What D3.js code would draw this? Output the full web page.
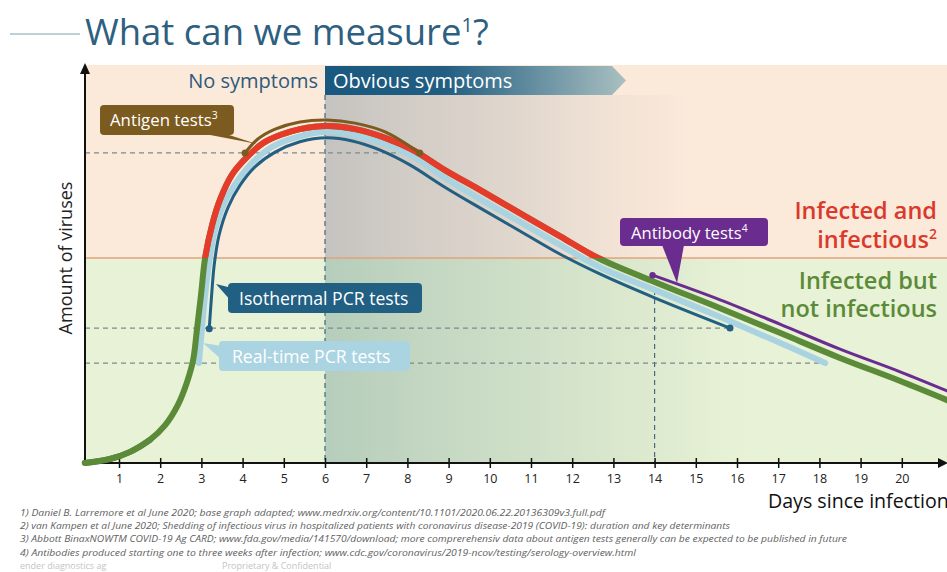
<!DOCTYPE html>
<html><head><meta charset="utf-8">
<script src="https://cdn.jsdelivr.net/npm/d3@7"></script>
<style>
body{margin:0;background:#fff;}
svg{display:block;font-family:"Open Sans",sans-serif;}
</style>
</head><body>
<svg id="c" width="947" height="572"></svg>
<script>
// ---------- data ----------
const dayTicks = [1,2,3,4,5,6,7,8,9,10,11,12,13,14,15,16,17,18,19,20];
// viral load curve [day, amount]
const viralLoad = [[0.17,0],[0.78,0.10],[1.27,0.28],[1.75,0.58],[2.12,0.95],[2.43,1.46],[2.65,2.03],[2.80,2.59],[2.89,3.34],[2.99,4.22],[3.09,5.15],[3.26,5.98],[3.45,6.61],[3.74,7.24],[4.11,7.69],[4.50,8.04],[4.91,8.24],[5.39,8.39],[6.05,8.47],[6.73,8.39],[7.46,8.17],[8.14,7.86],[8.91,7.36],[9.76,6.86],[10.73,6.28],[11.70,5.70],[12.63,5.15],[14.0,4.55],[15.59,3.89],[17.04,3.27],[18.50,2.64],[19.96,2.06],[21.1,1.58]];
const realTimePCR = [[2.94,2.51],[3.01,3.34],[3.09,4.22],[3.19,5.05],[3.33,5.85],[3.57,6.56],[3.89,7.11],[4.25,7.56],[4.71,7.94],[5.32,8.19],[6.05,8.32],[6.70,8.24],[7.43,8.02],[8.14,7.69],[8.91,7.16],[9.76,6.63],[10.73,6.06],[11.70,5.48],[12.67,4.92],[14.0,4.35],[15.59,3.67],[17.04,3.02],[18.14,2.51]];
const isothermalPCR = [[3.19,3.37],[3.24,4.10],[3.31,4.97],[3.43,5.73],[3.65,6.43],[3.94,6.98],[4.30,7.44],[4.79,7.81],[5.39,8.07],[6.05,8.17],[6.66,8.09],[7.34,7.86],[8.06,7.49],[8.91,6.93],[9.76,6.41],[10.73,5.83],[11.70,5.25],[12.67,4.75],[14.0,4.15],[15.83,3.39]];
const antigen = [[4.06,7.79],[4.37,8.14],[4.79,8.39],[5.39,8.57],[6.05,8.62],[6.73,8.54],[7.46,8.32],[8.30,7.79]];
const antibody = [[13.95,4.72],[15.59,4.10],[17.04,3.49],[18.50,2.86],[19.96,2.29],[21.1,1.81]];
const infectiousThreshold = 5.15;
const detectionLimits = {antigen:[7.79,8.30], isothermal:[3.39,15.83], realtime:[2.51,18.14]};
const symptomOnset = 6, antibodyOnset = 14;
const footnotes = [
 "1) Daniel B. Larremore et al June 2020; base graph adapted; www.medrxiv.org/content/10.1101/2020.06.22.20136309v3.full.pdf",
 "2) van Kampen et al June 2020; Shedding of infectious virus in hospitalized patients with coronavirus disease-2019 (COVID-19): duration and key determinants",
 "3) Abbott BinaxNOWTM COVID-19 Ag CARD; www.fda.gov/media/141570/download; more comprerehensiv data about antigen tests generally can be expected to be published in future",
 "4) Antibodies produced starting one to three weeks after infection; www.cdc.gov/coronavirus/2019-ncov/testing/serology-overview.html"
];
const footnoteEnds = [605,730,847,636];

// ---------- setup ----------
const svg = d3.select("#c");
const x = d3.scaleLinear().domain([0,21]).range([77.8,943]);
const y = d3.scaleLinear().domain([0,10]).range([463,65]);
const X0 = 85, X1 = 947, YB = 463, YT = 65;
const yThr = y(infectiousThreshold);
const defs = svg.append("defs");

function grad(id, stops, x1, x2){
  const g = defs.append("linearGradient").attr("id",id).attr("gradientUnits","userSpaceOnUse")
    .attr("x1",x1).attr("x2",x2).attr("y1",0).attr("y2",0);
  stops.forEach(s=>g.append("stop").attr("offset",s[0]).attr("stop-color",s[1]).attr("stop-opacity",s[2]));
}
grad("gTop",[[0,"#8a9aa3",0.48],[0.3,"#a0aaae",0.3],[0.58,"#b8bcb8",0]], x(symptomOnset), X1);
grad("gBot",[[0,"#6f9a96",0.42],[0.4,"#86a89c",0.2],[0.68,"#90b09c",0]], x(symptomOnset), X1);
grad("gBanner",[[0,"#1a587f",1],[0.4,"#225e82",1],[1,"#a9c0c0",1]], x(symptomOnset), 626);

// backgrounds
svg.append("rect").attr("x",X0).attr("y",YT).attr("width",X1-X0).attr("height",yThr-YT).attr("fill","#fbe9da");
svg.append("rect").attr("x",X0).attr("y",yThr).attr("width",X1-X0).attr("height",YB-yThr).attr("fill","#e8f2d6");
svg.append("rect").attr("x",x(symptomOnset)).attr("y",95).attr("width",X1-x(symptomOnset)).attr("height",yThr-95).attr("fill","url(#gTop)");
svg.append("rect").attr("x",x(symptomOnset)).attr("y",yThr).attr("width",X1-x(symptomOnset)).attr("height",YB-yThr).attr("fill","url(#gBot)");
svg.append("line").attr("x1",X0).attr("x2",X1).attr("y1",yThr).attr("y2",yThr).attr("stroke","#e3a27a").attr("stroke-width",1.5);

// title
svg.append("line").attr("x1",10).attr("x2",80).attr("y1",34).attr("y2",34).attr("stroke","#a9bfcc").attr("stroke-width",1.3);
const t = svg.append("text").attr("x",85).attr("y",45).attr("fill","#2e5f80").attr("font-size",36.5);
t.append("tspan").text("What can we measure");
t.append("tspan").attr("font-size",20).attr("dy",-13).text("1");
t.append("tspan").attr("dy",13).text("?");

// symptom banner
const bx = x(symptomOnset);
svg.append("path").attr("d",`M${bx},66 L612,66 L626,80.5 L612,95 L${bx},95 Z`).attr("fill","url(#gBanner)");
svg.append("text").attr("x",bx-7).attr("y",88).attr("text-anchor","end").attr("fill","#2d5a7b").attr("font-size",20).text("No symptoms");
svg.append("text").attr("x",bx+8).attr("y",88).attr("fill","#fff").attr("font-size",20).attr("font-weight",500).text("Obvious symptoms");

// dashed guides
const dash = (x1,y1,x2,y2,col)=>svg.append("line").attr("x1",x1).attr("y1",y1).attr("x2",x2).attr("y2",y2)
   .attr("stroke",col).attr("stroke-width",1.2).attr("stroke-dasharray","5,4");
Object.values(detectionLimits).forEach(d=>dash(X0,y(d[0]),x(d[1]),y(d[0]),"#7d8a8e"));
dash(x(symptomOnset),95,x(symptomOnset),YB,"#3d6880");
dash(x(antibodyOnset),290,x(antibodyOnset),YB,"#4a6880");

// curves
const line = d3.line().x(d=>x(d[0])).y(d=>y(d[1])).curve(d3.curveCatmullRom.alpha(0.5));
const draw = (data,col,w)=>svg.append("path").attr("d",line(data)).attr("fill","none").attr("stroke",col)
   .attr("stroke-width",w).attr("stroke-linecap","round").attr("stroke-linejoin","round");
draw(realTimePCR,"#a9d3e1",6);
draw(isothermalPCR,"#215f83",3);
draw(viralLoad,"#5b8a38",6);
defs.append("clipPath").attr("id","above").append("rect").attr("x",0).attr("y",0).attr("width",947).attr("height",yThr);
draw(viralLoad,"#e63b2b",6).attr("clip-path","url(#above)").attr("stroke-linecap","butt");
draw(antigen,"#7b5b1f",3);
draw(antibody,"#6a2d8f",3);
const dot=(p,col,r)=>svg.append("circle").attr("cx",x(p[0])).attr("cy",y(p[1])).attr("r",r).attr("fill",col);
dot(antigen[0],"#7b5b1f",3.5); dot(antigen[antigen.length-1],"#7b5b1f",3.5);
dot(isothermalPCR[0],"#215f83",3.5); dot(isothermalPCR[isothermalPCR.length-1],"#215f83",3.5);
dot(antibody[0],"#6a2d8f",3.2);

// labels with pointers
function label(box, ptr, col, txt, sup, fs, tx, ty){
  svg.append("path").attr("d",`M${ptr[0][0]},${ptr[0][1]} L${ptr[1][0]},${ptr[1][1]} L${ptr[2][0]},${ptr[2][1]} Z`).attr("fill",col);
  svg.append("rect").attr("x",box[0]).attr("y",box[1]).attr("width",box[2]-box[0]).attr("height",box[3]-box[1]).attr("rx",4).attr("fill",col);
  const tt = svg.append("text").attr("x",tx).attr("y",ty).attr("fill","#fff").attr("font-size",fs).attr("font-weight",500);
  tt.append("tspan").text(txt);
  if(sup) tt.append("tspan").attr("font-size",fs*0.62).attr("dy",-fs*0.42).text(sup);
}
label([100,105,234,135],[[205,134],[226,134],[257,144]],"#7b5b1f","Antigen tests","3",16.8,110,126);
label([228,283,422,313],[[216,284],[232,288],[232,302]],"#215f83","Isothermal PCR tests",null,17.6,239,305);
label([219,341,410,371],[[203,343],[222,346],[222,360]],"#abd4e2","Real-time PCR tests",null,17.6,232,363);
label([620,218,768,246],[[662,245],[684,245],[677,283]],"#6a2d8f","Antibody tests","4",16.6,631,239);

// right side state labels
const rl = (txt,yy,col,sup)=>{const e=svg.append("text").attr("x",937).attr("y",yy).attr("text-anchor","end")
   .attr("fill",col).attr("font-size",23.5).attr("font-weight",600); e.append("tspan").text(txt);
   if(sup) e.append("tspan").attr("font-size",14).attr("dy",-9).text(sup); return e;};
rl("Infected and",219,"#d93a2b");
rl("infectious",248,"#d93a2b","2");
rl("Infected but",289,"#5b8a38");
rl("not infectious",317,"#5b8a38");

// axes
svg.append("line").attr("x1",X0).attr("x2",940).attr("y1",YB).attr("y2",YB).attr("stroke","#111").attr("stroke-width",2);
svg.append("path").attr("d",`M938,458 L948,463 L938,468 Z`).attr("fill","#111");
svg.append("line").attr("x1",X0).attr("x2",X0).attr("y1",YB).attr("y2",72).attr("stroke","#111").attr("stroke-width",2);
svg.append("path").attr("d",`M80,74 L85,63 L90,74 Z`).attr("fill","#111");
const ax = svg.append("g").attr("transform",`translate(0,${YB})`)
  .call(d3.axisBottom(x).tickValues(dayTicks).tickSize(5).tickPadding(6).tickFormat(d3.format("d")));
ax.select(".domain").remove();
ax.selectAll(".tick line").attr("y1",-5).attr("y2",5).attr("stroke","#111").attr("stroke-width",1.5);
ax.selectAll(".tick text").attr("font-size",12.5).attr("fill","#222").attr("font-family","Open Sans, sans-serif");
// re-draw main green start over axis
svg.append("path").attr("d",line(viralLoad.slice(0,4))).attr("fill","none").attr("stroke","#5b8a38").attr("stroke-width",6).attr("stroke-linecap","round");

svg.append("text").attr("transform","translate(72,258) rotate(-90)").attr("text-anchor","middle")
  .attr("font-size",18).attr("fill","#222").text("Amount of viruses");
svg.append("text").attr("x",768).attr("y",508).attr("font-size",19.6).attr("fill","#111").text("Days since infection");

// footnotes
footnotes.forEach((f,i)=>{
  svg.append("text").attr("x",20).attr("y",515.5+i*13.4).attr("font-size",9.6).attr("font-style","italic")
    .attr("fill","#5f5f5f").attr("textLength",footnoteEnds[i]-20).attr("lengthAdjust","spacingAndGlyphs").text(f);
});
svg.append("text").attr("x",20).attr("y",569).attr("font-size",9).attr("fill","#c4c4c4").text("ender diagnostics ag");
svg.append("text").attr("x",222).attr("y",569).attr("font-size",9).attr("fill","#c4c4c4").text("Proprietary & Confidential");
</script>
</body></html>
